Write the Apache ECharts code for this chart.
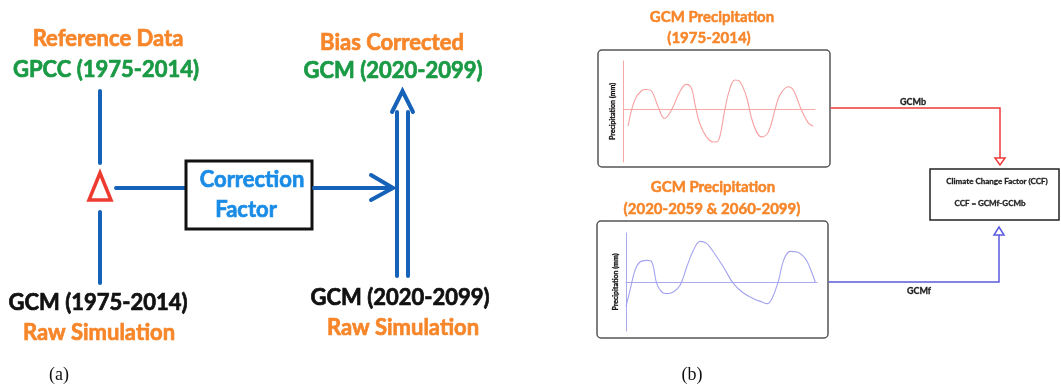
<!DOCTYPE html>
<html>
<head>
<meta charset="utf-8">
<script src="https://cdn.jsdelivr.net/npm/echarts@6/dist/echarts.min.js"></script>
<style>
  html, body { margin: 0; padding: 0; background: #ffffff; }
  #chart { width: 1061px; height: 387px; }
</style>
</head>
<body>
<div id="chart"></div>
<script>
// Baseline period (1975-2014) precipitation anomaly curve: time step and value
const baseTime = [2.6, 6.1, 9.6, 12.2, 14.8, 18.3, 21.7, 25.2, 29.6, 33.0, 35.7, 37.4, 40.0, 43.5, 47.0,
  48.7, 50.4, 53.0, 55.7, 58.3, 60.9, 64.3, 67.8, 72.2, 75.7, 79.1, 81.7, 86.1, 88.7, 93.0, 96.5, 99.1];
const basePrecip = [-50, 28, 56, 60, 56, 8, -27, -2, 53, 75, 63, 18, -42, -82, -97,
  -97, -82, -2, 63, 88, 83, 38, -42, -82, -67, -2, 43, 68, 58, -2, -40, -50];

// Future period (2020-2059 & 2060-2099) precipitation anomaly curve
const futureTime = [0, 2.1, 4.7, 7.3, 10.8, 13.5, 16.1, 18.7, 21.3, 24.8, 28.3, 31.8, 35.3, 38.8, 42.3,
  45.8, 51.0, 56.3, 61.5, 66.8, 71.2, 73.8, 76.4, 79.9, 82.5, 86.0, 89.5, 93.9, 96.5, 99.1];
const futurePrecip = [-73, -25, 35, 60, 65, 60, -5, -30, -35, -30, -10, 45, 95, 122, 115,
  90, 45, -5, -33, -50, -60, -65, -50, 5, 65, 92, 90, 70, 40, 0];

const yAxisTitle = 'Precipitation (mm)';

const ORANGE = '#f7862a';
const GREEN = '#1a9a45';
const FLOW_BLUE = '#1662b8';
const TEXT_BLUE = '#1a8ce6';
const RED = '#ee3b32';
const FONT = 'Lato, "Open Sans", sans-serif';

function zip(xs, ys) { return xs.map((x, i) => [x, ys[i]]); }

// Heavy sans label; a thin same-colour outline gives the extra-bold look
function label(text, x, y, size, color, outline) {
  return {
    type: 'text', x: x, y: y, z: 10,
    style: {
      text: text, fill: color, align: 'center', verticalAlign: 'middle',
      font: 'bold ' + size + 'px ' + FONT,
      stroke: color, lineWidth: outline === undefined ? 0.7 : outline
    }
  };
}
function line(x1, y1, x2, y2, color, w) {
  return { type: 'line', z: 5, shape: { x1: x1, y1: y1, x2: x2, y2: y2 },
    style: { stroke: color, lineWidth: w, lineCap: 'round' } };
}
function poly(points, color, w, closed, fill) {
  return { type: closed ? 'polygon' : 'polyline', z: 5, shape: { points: points },
    style: { stroke: color, lineWidth: w, fill: fill || (closed ? '#fff' : null), lineJoin: 'miter', lineCap: 'round' } };
}

const chart = echarts.init(document.getElementById('chart'), null, { renderer: 'canvas' });

const graphics = [
  // ---- (a) bias-correction flow ----
  label('Reference Data', 108, 39, 22, ORANGE),
  label('GPCC (1975-2014)', 106, 70, 22, GREEN),
  line(100, 91, 100, 163, FLOW_BLUE, 4),
  poly([[100, 173], [89, 200], [111, 200]], RED, 3.5, true),
  line(100, 212, 100, 283, FLOW_BLUE, 4),
  line(116, 188, 186, 188, FLOW_BLUE, 4),
  { type: 'rect', z: 5, shape: { x: 186, y: 161, width: 126, height: 68 },
    style: { stroke: '#111', lineWidth: 3, fill: '#fff' } },
  label('Correction', 252, 180, 22, TEXT_BLUE),
  label('Factor', 246, 210, 22, TEXT_BLUE),
  line(314, 188, 392, 188, FLOW_BLUE, 4),
  poly([[371, 175], [393, 188], [371, 200]], FLOW_BLUE, 4, false),
  line(397, 112, 397, 276, FLOW_BLUE, 4),
  line(408, 112, 408, 276, FLOW_BLUE, 4),
  poly([[392, 112], [402.5, 91], [413, 112]], FLOW_BLUE, 4, false),
  label('Bias Corrected', 392, 43, 22, ORANGE),
  label('GCM (2020-2099)', 393, 71, 22, GREEN),
  label('GCM (1975-2014)', 98, 303, 22, '#111'),
  label('Raw Simulation', 99, 333, 22, ORANGE),
  label('GCM (2020-2099)', 400, 298, 22, '#111'),
  label('Raw Simulation', 403, 328, 22, ORANGE),
  { type: 'text', x: 59, y: 375, z: 10,
    style: { text: '(a)', fill: '#111', align: 'center', verticalAlign: 'middle',
      font: '18px "Liberation Serif", "DejaVu Serif", serif' } },
  { type: 'text', x: 692, y: 375, z: 10,
    style: { text: '(b)', fill: '#111', align: 'center', verticalAlign: 'middle',
      font: '18px "Liberation Serif", "DejaVu Serif", serif' } },

  // ---- (b) climate change factor ----
  label('GCM Precipitation', 712, 17, 15, ORANGE, 0.5),
  label('(1975-2014)', 709, 38, 15, ORANGE, 0.5),
  { type: 'rect', z: 1, shape: { x: 598, y: 50, width: 232, height: 117, r: 4 },
    style: { stroke: '#555', lineWidth: 1.5, fill: 'rgba(0,0,0,0)' } },
  label('GCM Precipitation', 713, 187, 15, ORANGE, 0.5),
  label('(2020-2059 & 2060-2099)', 712, 209, 15, ORANGE, 0.5),
  { type: 'rect', z: 1, shape: { x: 597, y: 221, width: 231, height: 117, r: 4 },
    style: { stroke: '#555', lineWidth: 1.5, fill: 'rgba(0,0,0,0)' } },

  // GCMb connector
  poly([[831, 108], [1000, 108], [1000, 158]], '#f03a3a', 1.5, false),
  poly([[995, 158], [1005, 158], [1000, 165]], '#f03a3a', 1.5, true),
  label('GCMb', 913, 102, 9, '#222', 0.3),
  // GCMf connector
  poly([[829, 282], [999, 282], [999, 235]], '#5b5be0', 1.5, false),
  poly([[994, 235], [1004, 235], [999, 227]], '#5b5be0', 1.5, true),
  label('GCMf', 919, 291, 9, '#222', 0.3),
  // CCF box
  { type: 'rect', z: 5, shape: { x: 930, y: 169, width: 129, height: 51 },
    style: { stroke: '#222', lineWidth: 1.5, fill: '#fff' } },
  label('Climate Change Factor (CCF)', 997, 181, 8, '#222', 0.3),
  label('CCF = GCMf-GCMb', 990, 203, 8, '#222', 0.3)
];

function curveAxes(gridIndex, lo, hi, color) {
  return {
    x: { type: 'value', gridIndex: gridIndex, min: 0, max: 100,
      axisLine: { show: true, onZero: true, lineStyle: { color: color, width: 1 } },
      axisTick: { show: false }, axisLabel: { show: false }, splitLine: { show: false } },
    y: { type: 'value', gridIndex: gridIndex, min: lo, max: hi,
      name: yAxisTitle, nameLocation: 'middle', nameGap: 7, nameRotate: 90,
      nameTextStyle: { fontFamily: FONT, fontWeight: 'bold', fontSize: 7, color: '#111',
        textBorderColor: '#111', textBorderWidth: 0.3 },
      axisLine: { show: true, lineStyle: { color: color, width: 1 } },
      axisTick: { show: false }, axisLabel: { show: false }, splitLine: { show: false } }
  };
}
const ax0 = curveAxes(0, -157, 145, '#f7a8a8');
const ax1 = curveAxes(1, -147, 147, '#a9a9f0');

chart.setOption({
  backgroundColor: '#ffffff',
  animation: false,
  grid: [
    { left: 623, top: 61, width: 192, height: 101 },
    { left: 626, top: 233, width: 191, height: 98 }
  ],
  xAxis: [ax0.x, ax1.x],
  yAxis: [ax0.y, ax1.y],
  series: [
    { type: 'line', xAxisIndex: 0, yAxisIndex: 0, data: zip(baseTime, basePrecip),
      smooth: 0.4, showSymbol: false, lineStyle: { color: '#f6a0a0', width: 1.1 } },
    { type: 'line', xAxisIndex: 1, yAxisIndex: 1, data: zip(futureTime, futurePrecip),
      smooth: 0.4, showSymbol: false, lineStyle: { color: '#a3a3ee', width: 1.1 } }
  ],
  graphic: graphics
});
</script>
</body>
</html>
